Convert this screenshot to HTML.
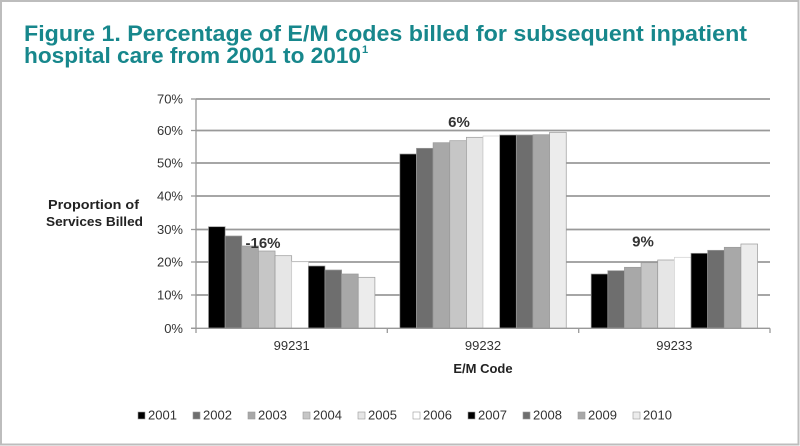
<!DOCTYPE html>
<html><head><meta charset="utf-8"><style>
html,body{margin:0;padding:0;background:#fff;}
svg{display:block;}
text{font-family:"Liberation Sans",Arial,sans-serif;}
</style></head><body>
<svg width="800" height="446" viewBox="0 0 800 446" xmlns="http://www.w3.org/2000/svg">
<rect x="0" y="0" width="800" height="446" fill="#fff"/>
<rect x="1" y="1" width="797.5" height="443.5" fill="none" stroke="#bdbdbd" stroke-width="2"/>

<!-- Title -->
<text x="24" y="41" font-size="22" font-weight="bold" fill="#17878c" textLength="723" lengthAdjust="spacingAndGlyphs">Figure 1. Percentage of E/M codes billed for subsequent inpatient</text>
<text x="24" y="63" font-size="22" font-weight="bold" fill="#17878c" textLength="337" lengthAdjust="spacingAndGlyphs">hospital care from 2001 to 2010</text>
<text x="362" y="53" font-size="11" font-weight="bold" fill="#17878c">1</text>

<!-- Gridlines -->
<g stroke="#999" stroke-width="1.8">
<line x1="196" y1="99" x2="770" y2="99"/>
<line x1="196" y1="130.5" x2="770" y2="130.5"/>
<line x1="196" y1="163" x2="770" y2="163"/>
<line x1="196" y1="196" x2="770" y2="196"/>
<line x1="196" y1="229.5" x2="770" y2="229.5"/>
<line x1="196" y1="262" x2="770" y2="262"/>
<line x1="196" y1="295" x2="770" y2="295"/>
</g>
<!-- y axis ticks -->
<g stroke="#999" stroke-width="1.3">
<line x1="196" y1="99" x2="196" y2="328.3"/>
<line x1="191" y1="99" x2="196" y2="99"/>
<line x1="191" y1="130.5" x2="196" y2="130.5"/>
<line x1="191" y1="163" x2="196" y2="163"/>
<line x1="191" y1="196" x2="196" y2="196"/>
<line x1="191" y1="229.5" x2="196" y2="229.5"/>
<line x1="191" y1="262" x2="196" y2="262"/>
<line x1="191" y1="295" x2="196" y2="295"/>
<line x1="191" y1="328.3" x2="196" y2="328.3"/>
</g>

<!-- Y labels -->
<g font-size="13" fill="#333" text-anchor="end">
<text x="183" y="103.5">70%</text>
<text x="183" y="135">60%</text>
<text x="183" y="167.5">50%</text>
<text x="183" y="200.5">40%</text>
<text x="183" y="234">30%</text>
<text x="183" y="266.5">20%</text>
<text x="183" y="299.5">10%</text>
<text x="183" y="332.8">0%</text>
</g>

<!-- Y axis title -->
<g font-size="13" font-weight="bold" fill="#222">
<text x="48" y="209" textLength="91" lengthAdjust="spacingAndGlyphs">Proportion of</text>
<text x="46" y="226" textLength="97" lengthAdjust="spacingAndGlyphs">Services Billed</text>
</g>

<!-- Bars -->
<g stroke="#9a9a9a" stroke-width="0.7">
<!-- cat1 -->
<rect x="208.5" y="226.7" width="16.64" height="101.6" fill="#000"/>
<rect x="225.14" y="236" width="16.64" height="92.3" fill="#6e6e6e"/>
<rect x="241.78" y="246" width="16.64" height="82.3" fill="#a8a8a8"/>
<rect x="258.42" y="251" width="16.64" height="77.3" fill="#c6c6c6"/>
<rect x="275.06" y="255.7" width="16.64" height="72.6" fill="#e6e6e6"/>
<rect x="291.7" y="261.8" width="16.64" height="66.5" fill="#fff" stroke="#d0d0d0"/>
<rect x="308.34" y="266" width="16.64" height="62.3" fill="#000"/>
<rect x="324.98" y="270" width="16.64" height="58.3" fill="#6e6e6e"/>
<rect x="341.62" y="274" width="16.64" height="54.3" fill="#a8a8a8"/>
<rect x="358.26" y="277.3" width="16.64" height="51" fill="#ececec"/>
<!-- cat2 -->
<rect x="399.83" y="154" width="16.64" height="174.3" fill="#000"/>
<rect x="416.47" y="148.3" width="16.64" height="180" fill="#6e6e6e"/>
<rect x="433.11" y="142.7" width="16.64" height="185.6" fill="#a8a8a8"/>
<rect x="449.75" y="140.7" width="16.64" height="187.6" fill="#c6c6c6"/>
<rect x="466.39" y="137.3" width="16.64" height="191" fill="#e6e6e6"/>
<rect x="483.03" y="136" width="16.64" height="192.3" fill="#fff" stroke="#d0d0d0"/>
<rect x="499.67" y="135" width="16.64" height="193.3" fill="#000"/>
<rect x="516.31" y="135" width="16.64" height="193.3" fill="#6e6e6e"/>
<rect x="532.95" y="134.7" width="16.64" height="193.6" fill="#a8a8a8"/>
<rect x="549.59" y="132.3" width="16.64" height="196" fill="#ececec"/>
<!-- cat3 -->
<rect x="591.16" y="274" width="16.64" height="54.3" fill="#000"/>
<rect x="607.8" y="270.7" width="16.64" height="57.6" fill="#6e6e6e"/>
<rect x="624.44" y="267.3" width="16.64" height="61" fill="#a8a8a8"/>
<rect x="641.08" y="262.7" width="16.64" height="65.6" fill="#c6c6c6"/>
<rect x="657.72" y="260" width="16.64" height="68.3" fill="#e6e6e6"/>
<rect x="674.36" y="257.3" width="16.64" height="71" fill="#fff" stroke="#d0d0d0"/>
<rect x="691" y="253.3" width="16.64" height="75" fill="#000"/>
<rect x="707.64" y="250.3" width="16.64" height="78" fill="#6e6e6e"/>
<rect x="724.28" y="247.3" width="16.64" height="81" fill="#a8a8a8"/>
<rect x="740.92" y="244" width="16.64" height="84.3" fill="#ececec"/>
</g>

<!-- X axis -->
<g stroke="#999" stroke-width="1.3">
<line x1="191" y1="328.3" x2="770" y2="328.3"/>
<line x1="196" y1="328.3" x2="196" y2="333"/>
<line x1="387.3" y1="328.3" x2="387.3" y2="333"/>
<line x1="578.7" y1="328.3" x2="578.7" y2="333"/>
<line x1="770" y1="328.3" x2="770" y2="333"/>
</g>

<!-- Bar annotations -->
<g font-size="15" font-weight="bold" fill="#333" text-anchor="middle">
<text x="263" y="248">-16%</text>
<text x="459" y="127">6%</text>
<text x="643" y="246.5">9%</text>
</g>

<!-- X labels -->
<g font-size="13" fill="#333" text-anchor="middle">
<text x="291.7" y="350">99231</text>
<text x="483" y="350">99232</text>
<text x="674.3" y="350">99233</text>
</g>
<text x="483" y="373" font-size="13" font-weight="bold" fill="#222" text-anchor="middle">E/M Code</text>

<!-- Legend -->
<g stroke="#999" stroke-width="0.6">
<rect x="138" y="412" width="7" height="7" fill="#000"/>
<rect x="193" y="412" width="7" height="7" fill="#6e6e6e"/>
<rect x="248" y="412" width="7" height="7" fill="#a8a8a8"/>
<rect x="303" y="412" width="7" height="7" fill="#c6c6c6"/>
<rect x="358" y="412" width="7" height="7" fill="#e6e6e6"/>
<rect x="413" y="412" width="7" height="7" fill="#fff"/>
<rect x="468" y="412" width="7" height="7" fill="#000"/>
<rect x="523" y="412" width="7" height="7" fill="#6e6e6e"/>
<rect x="578" y="412" width="7" height="7" fill="#a8a8a8"/>
<rect x="633" y="412" width="7" height="7" fill="#ececec"/>
</g>
<g font-size="13" fill="#333">
<text x="148" y="419.5">2001</text>
<text x="203" y="419.5">2002</text>
<text x="258" y="419.5">2003</text>
<text x="313" y="419.5">2004</text>
<text x="368" y="419.5">2005</text>
<text x="423" y="419.5">2006</text>
<text x="478" y="419.5">2007</text>
<text x="533" y="419.5">2008</text>
<text x="588" y="419.5">2009</text>
<text x="643" y="419.5">2010</text>
</g>
</svg>
</body></html>
